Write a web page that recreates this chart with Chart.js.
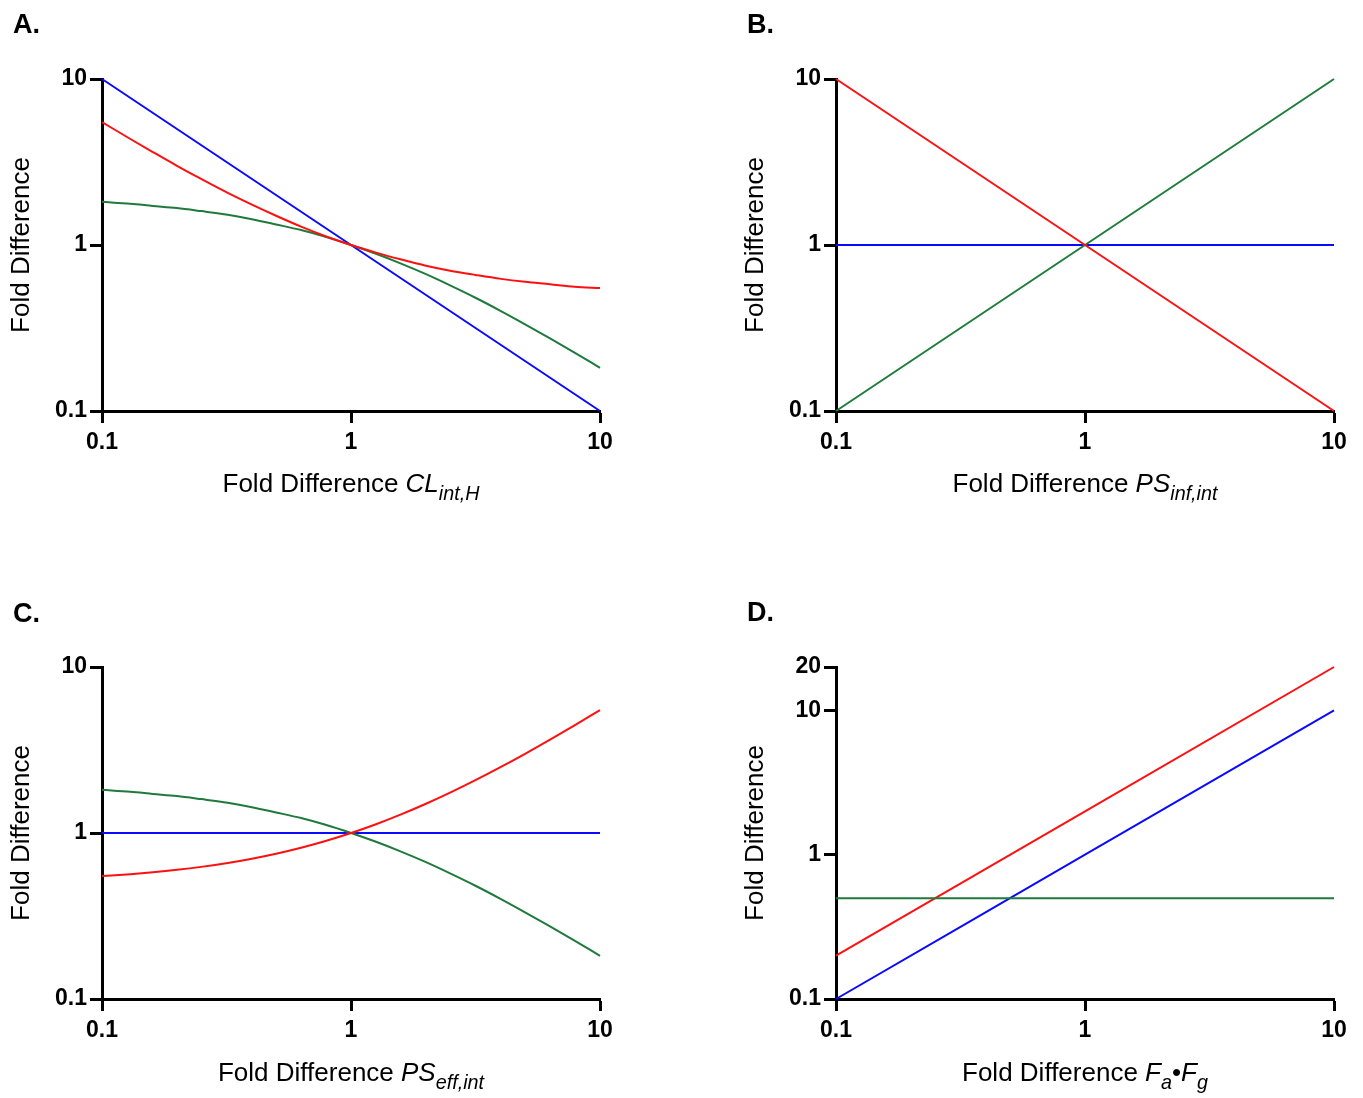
<!DOCTYPE html>
<html>
<head>
<meta charset="utf-8">
<script src="https://cdn.jsdelivr.net/npm/chart.js@4.4.1/dist/chart.umd.min.js"></script>
<style>
  html, body { margin: 0; padding: 0; background: #fff; overflow: hidden; }
  #wrap { position: relative; width: 1363px; height: 1098px; font-family: "Liberation Sans", Arial, sans-serif; }
  canvas { position: absolute; }
  .letter { position: absolute; font-weight: bold; font-size: 27px; line-height: 30px; color: #000; }
  .xtitle { position: absolute; width: 498px; text-align: center; font-size: 26px; line-height: 28px; color: #000; }
  .xtitle sub { font-size: 0.76em; vertical-align: -0.38em; line-height: 0; }
</style>
</head>
<body>
<div id="wrap">
  <canvas id="chartA" width="629" height="520" style="left:0px;top:0px"></canvas>
  <canvas id="chartB" width="629" height="520" style="left:734px;top:0px"></canvas>
  <canvas id="chartC" width="629" height="520" style="left:0px;top:588px"></canvas>
  <canvas id="chartD" width="629" height="520" style="left:734px;top:588px"></canvas>

  <div class="letter" style="left:13px;top:9px">A.</div>
  <div class="letter" style="left:747px;top:9px">B.</div>
  <div class="letter" style="left:13px;top:598px">C.</div>
  <div class="letter" style="left:747px;top:597px">D.</div>

  <div class="xtitle" style="left:102px;top:469px">Fold Difference <i>CL</i><sub><i>int,H</i></sub></div>
  <div class="xtitle" style="left:836px;top:469px">Fold Difference <i>PS</i><sub><i>inf,int</i></sub></div>
  <div class="xtitle" style="left:102px;top:1058px">Fold Difference <i>PS</i><sub><i>eff,int</i></sub></div>
  <div class="xtitle" style="left:836px;top:1058px">Fold Difference <i>F</i><sub><i>a</i></sub>•<i>F</i><sub><i>g</i></sub></div>
</div>

<script>
// x values for the curved series
var curveX = [0.1, 0.13, 0.16, 0.2, 0.25, 0.32, 0.4, 0.5, 0.63, 0.79, 1, 1.26, 1.58, 2, 2.5, 3.16, 4, 5, 6.3, 7.9, 10];
// x values for the straight series
var lineX = [0.1, 1, 10];

// panel A
var blueA  = [10, 1, 0.1];
var redA   = [5.5, 4.35, 3.63, 3.0, 2.5, 2.06, 1.75, 1.5, 1.29, 1.13, 1, 0.9, 0.82, 0.75, 0.7, 0.66, 0.625, 0.6, 0.58, 0.56, 0.55];
var greenA = [1.82, 1.77, 1.72, 1.67, 1.6, 1.52, 1.43, 1.33, 1.23, 1.12, 1, 0.885, 0.775, 0.667, 0.571, 0.481, 0.4, 0.333, 0.274, 0.225, 0.182];

// panel B
var blueB  = [1, 1, 1];
var redB   = [10, 1, 0.1];
var greenB = [0.1, 1, 10];

// panel C
var blueC  = [1, 1, 1];
var redC   = [0.55, 0.565, 0.58, 0.6, 0.625, 0.66, 0.7, 0.75, 0.815, 0.895, 1, 1.13, 1.29, 1.5, 1.75, 2.08, 2.5, 3.0, 3.65, 4.45, 5.5];
var greenC = [1.82, 1.77, 1.72, 1.67, 1.6, 1.52, 1.43, 1.33, 1.23, 1.12, 1, 0.885, 0.775, 0.667, 0.571, 0.481, 0.4, 0.333, 0.274, 0.225, 0.182];

// panel D
var blueD  = [0.1, 1, 10];
var redD   = [0.2, 2, 20];
var greenD = [0.5, 0.5, 0.5];

// tick labels
var xTicks  = [0.1, 1, 10];
var yTicks  = [0.1, 1, 10];
var yTicksD = [0.1, 1, 10, 20];

var BLUE = '#0a0aff', RED = '#ff1010', GREEN = '#1f7a3c';

function pts(xs, ys){
    return xs.map(function(x, i){ return {x: x, y: ys[i]}; });
}

function ds(xs, ys, color){
    return {
        data: pts(xs, ys),
        borderColor: color,
        backgroundColor: color,
        borderWidth: 2,
        pointRadius: 0,
        showLine: true,
        cubicInterpolationMode: 'monotone',
        clip: 4
    };
}

function logAxis(min, max, ticks, horizontal){
    return {
        type: 'logarithmic',
        min: min,
        max: max,
        afterBuildTicks: function(scale){
            scale.ticks = ticks.map(function(v){ return {value: v}; });
        },
        afterFit: function(scale){
            if (horizontal) scale.height = 109;
            else scale.width = 102;
        },
        ticks: {
            autoSkip: false,
            maxRotation: 0,
            color: '#000',
            padding: horizontal ? 6 : 3,
            font: {family: '"Liberation Sans", Arial, sans-serif', size: 23, weight: 'bold'},
            callback: function(v){ return String(v); }
        },
        grid: {
            display: true,
            drawOnChartArea: false,
            drawTicks: true,
            tickLength: 12,
            tickWidth: 3,
            tickColor: '#000'
        },
        border: {display: true, color: '#000', width: 3},
        title: horizontal ? {display: false} : {
            display: true,
            text: 'Fold Difference',
            color: '#000',
            padding: {top: 6, bottom: 0},
            font: {family: '"Liberation Sans", Arial, sans-serif', size: 26, weight: 'normal', lineHeight: 1.2}
        }
    };
}

function makeChart(id, datasets, yMax, yTickList){
    new Chart(document.getElementById(id), {
        type: 'scatter',
        data: {datasets: datasets},
        options: {
            responsive: false,
            animation: false,
            devicePixelRatio: 1,
            layout: {padding: {top: 79, right: 29, left: 0, bottom: 0}},
            plugins: {legend: {display: false}, tooltip: {enabled: false}},
            scales: {
                x: logAxis(0.1, 10, xTicks, true),
                y: logAxis(0.1, yMax, yTickList, false)
            }
        }
    });
}

makeChart('chartA', [ds(curveX, redA, RED), ds(curveX, greenA, GREEN), ds(lineX, blueA, BLUE)], 10, yTicks);
makeChart('chartB', [ds(lineX, redB, RED), ds(lineX, greenB, GREEN), ds(lineX, blueB, BLUE)], 10, yTicks);
makeChart('chartC', [ds(curveX, redC, RED), ds(curveX, greenC, GREEN), ds(lineX, blueC, BLUE)], 10, yTicks);
makeChart('chartD', [ds(lineX, greenD, GREEN), ds(lineX, redD, RED), ds(lineX, blueD, BLUE)], 20, yTicksD);
</script>
</body>
</html>
